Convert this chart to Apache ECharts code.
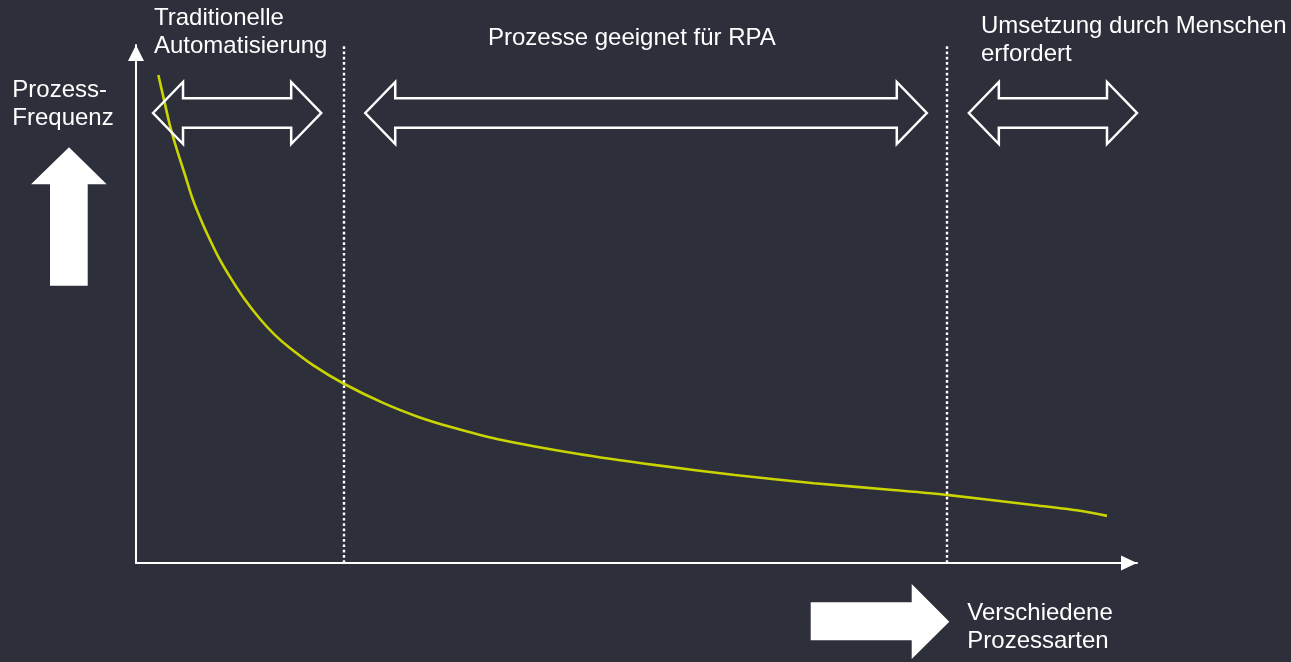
<!DOCTYPE html>
<html>
<head>
<meta charset="utf-8">
<script src="https://cdn.jsdelivr.net/npm/echarts@6/dist/echarts.min.js"></script>
<style>
html,body{margin:0;padding:0;background:#2d2f3b;}
#chart{width:1291px;height:662px;}
</style>
</head>
<body>
<div id="chart"></div>
<script>
// Curve: process types (x) vs. process frequency (y), abstract units 0..100
const procX =    [2.23, 2.80, 3.40, 4.10, 4.90, 5.69, 6.59, 7.39, 8.39, 9.59, 10.89, 12.39, 13.89, 15.38, 17.68, 20.68, 24.68, 28.07, 31.37, 36.16, 44.06, 51.95, 59.84, 67.73, 75.62, 81.22, 89.61, 94.61, 97.0];
const procFreq = [94.2, 89.4, 84.4, 79.7, 74.9, 70.1, 65.8, 62.4, 58.5, 54.6, 50.8, 47.1, 44.0, 41.5, 38.2, 34.7, 30.9, 28.3, 26.3, 23.9, 21.1, 18.9, 17.0, 15.4, 14.1, 13.1, 11.2, 10.0, 9.1];

// Region boundaries (dotted lines) on the x axis
const boundaries = [20.78, 81.02];

// Region labels and the span of their double arrows
const regionNames = ['Traditionelle\nAutomatisierung', 'Prozesse geeignet für RPA', 'Umsetzung durch Menschen\nerfordert'];
const arrowStart = [1.7, 22.9, 83.2];
const arrowEnd =   [18.5, 79.0, 100.0];

// Axis titles
const yAxisTitle = 'Prozess-\nFrequenz';
const xAxisTitle = 'Verschiedene\nProzessarten';

const FONT = '"Liberation Sans", Arial, sans-serif';
const WHITE = '#ffffff';
const CURVE = '#c9d400';
const LH = 27.7;

const chart = echarts.init(document.getElementById('chart'));

function label(text, x, firstLineMid) {
  return { type: 'text', x: x, y: firstLineMid - LH / 2, silent: true,
    style: { text: text, fill: WHITE, fontFamily: FONT, fontSize: 24, lineHeight: LH, verticalAlign: 'top', align: 'left' } };
}

const option = {
  backgroundColor: '#2d2f3b',
  animation: false,
  grid: { left: 136, top: 45, right: 154, bottom: 99, containLabel: false },
  xAxis: {
    type: 'value', min: 0, max: 100,
    axisLine: { show: true, lineStyle: { color: WHITE, width: 2 }, symbol: ['none', 'triangle'], symbolSize: [15, 16], symbolOffset: [0, -8] },
    axisTick: { show: false }, axisLabel: { show: false }, splitLine: { show: false }
  },
  yAxis: {
    type: 'value', min: 0, max: 100,
    axisLine: { show: true, lineStyle: { color: WHITE, width: 2 }, symbol: ['none', 'triangle'], symbolSize: [16, 16], symbolOffset: [0, -8] },
    axisTick: { show: false }, axisLabel: { show: false }, splitLine: { show: false }
  },
  series: [
    {
      type: 'line',
      data: procX.map((x, i) => [x, procFreq[i]]),
      smooth: 0.3,
      showSymbol: false,
      symbol: 'none',
      lineStyle: { color: CURVE, width: 2.6 },
      z: 2,
      markLine: {
        silent: true,
        symbol: ['none', 'none'],
        label: { show: false },
        lineStyle: { color: WHITE, width: 2.4, type: [2.7, 2.6] },
        data: boundaries.map(b => ({ xAxis: b })),
        z: 3
      }
    },
    {
      type: 'custom',
      clip: false,
      silent: true,
      z: 5,
      data: arrowStart.map((s, i) => [s, arrowEnd[i]]),
      renderItem: function (params, api) {
        const cs = params.coordSys;
        const x1 = api.coord([api.value(0), 0])[0];
        const x2 = api.coord([api.value(1), 0])[0];
        const cy = cs.y + 68;
        const h = 30, H = 31, s = 14.75;
        return {
          type: 'polygon',
          shape: { points: [
            [x1, cy], [x1 + h, cy - H], [x1 + h, cy - s], [x2 - h, cy - s], [x2 - h, cy - H],
            [x2, cy], [x2 - h, cy + H], [x2 - h, cy + s], [x1 + h, cy + s], [x1 + h, cy + H]
          ] },
          style: { fill: 'none', stroke: WHITE, lineWidth: 2.5, lineJoin: 'miter' }
        };
      }
    }
  ],
  graphic: [
    // solid up arrow (frequency)
    { type: 'polygon', silent: true, shape: { points: [[69, 147.3], [106.7, 184.3], [87.7, 184.3], [87.7, 285.7], [50, 285.7], [50, 184.3], [31, 184.3]] }, style: { fill: WHITE } },
    // solid right arrow (process types)
    { type: 'polygon', silent: true, shape: { points: [[949.3, 621.7], [911.7, 659], [911.7, 640.3], [810.7, 640.3], [810.7, 602.3], [911.7, 602.3], [911.7, 584]] }, style: { fill: WHITE } },
    label(regionNames[0], 154, 18.2),
    label(regionNames[1], 488, 38.2),
    label(regionNames[2], 981, 26.5),
    label(yAxisTitle, 12.3, 90.5),
    label(xAxisTitle, 967.3, 613.5)
  ]
};

chart.setOption(option);
</script>
</body>
</html>
